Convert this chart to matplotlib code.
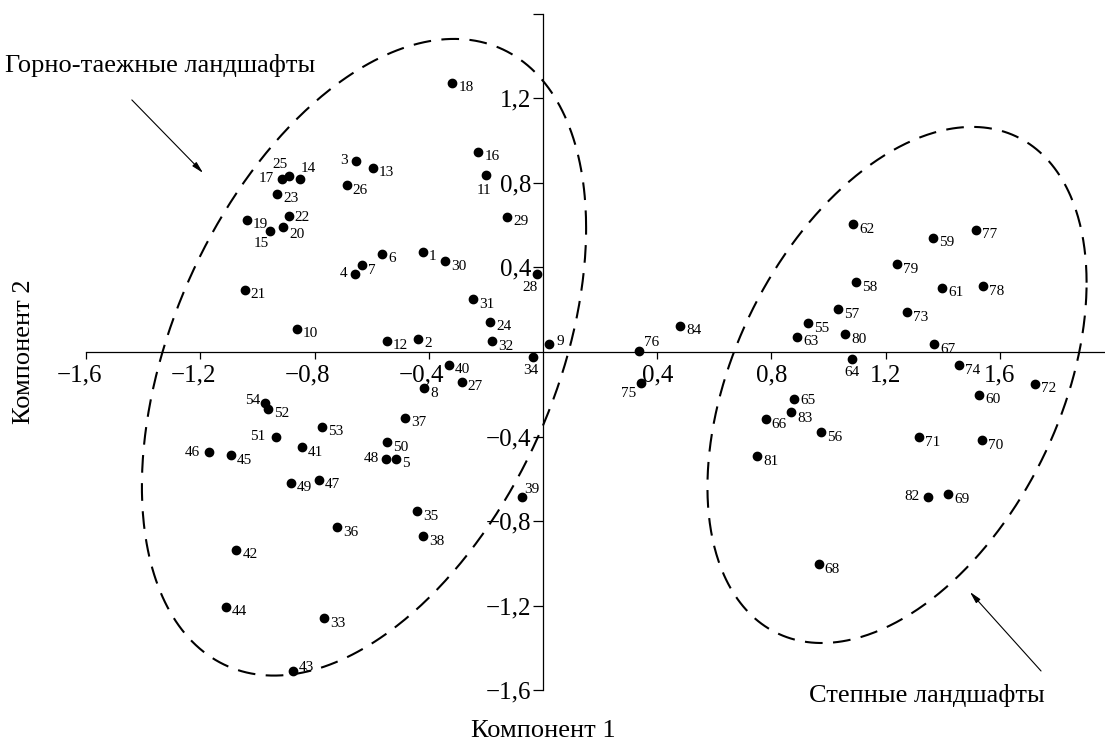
import numpy as np
import matplotlib
matplotlib.use("Agg")
import matplotlib.pyplot as plt
from matplotlib.transforms import ScaledTranslation

plt.rcParams['font.family'] = ['Liberation Serif', 'DejaVu Serif']

# ---- data (component scores) ----
ids = list(range(1, 85))
comp1 = [-0.421, -0.437, -0.654, -0.657, -0.515, -0.563, -0.634, -0.417, 0.022, -0.863,
         -0.201, -0.546, -0.595, -0.851, -0.955, -0.227, -0.913, -0.318, -1.037, -0.910,
         -1.045, -0.891, -0.931, -0.186, -0.889, -0.687, -0.285, -0.020, -0.125, -0.343,
         -0.246, -0.179, -0.768, -0.036, -0.442, -0.722, -0.482, -0.419, -0.075, -0.329,
         -0.845, -1.074, -0.876, -1.111, -1.094, -1.169, -0.786, -0.551, -0.883, -0.545,
         -0.936, -0.962, -0.774, -0.973, 0.929, 0.973, 1.034, 1.096, 1.367, 1.527,
         1.399, 1.086, 0.890, 1.081, 0.879, 0.780, 1.371, 0.966, 1.420, 1.538,
         1.316, 1.724, 1.276, 1.457, 0.342, 0.337, 1.518, 1.540, 1.239, 1.058,
         0.750, 1.350, 0.869, 0.480]
comp2 = [0.474, 0.063, 0.902, 0.369, -0.506, 0.465, 0.411, -0.172, 0.039, 0.109,
         0.837, 0.054, 0.870, 0.818, 0.572, 0.947, 0.818, 1.272, 0.626, 0.591,
         0.293, 0.645, 0.747, 0.142, 0.834, 0.788, -0.140, 0.369, 0.640, 0.429,
         0.249, 0.050, -1.259, -0.025, -0.752, -0.829, -0.312, -0.871, -0.687, -0.061,
         -0.451, -0.935, -1.508, -1.204, -0.489, -0.473, -0.604, -0.506, -0.619, -0.427,
         -0.402, -0.268, -0.353, -0.243, 0.136, -0.380, 0.202, 0.329, 0.541, -0.203,
         0.303, 0.604, 0.071, -0.035, -0.224, -0.317, 0.036, -1.004, -0.673, -0.418,
         -0.403, -0.150, 0.188, -0.063, -0.145, 0.005, 0.577, 0.311, 0.415, 0.084,
         -0.493, -0.684, -0.282, 0.124]

xticks = [-1.6, -1.2, -0.8, -0.4, 0.4, 0.8, 1.2, 1.6]
xticklabels = ["−1,6", "−1,2", "−0,8", "−0,4", "0,4", "0,8", "1,2", "1,6"]
yticks = [-1.6, -1.2, -0.8, -0.4, 0.4, 0.8, 1.2, 1.6]
yticklabels = ["−1,6", "−1,2", "−0,8", "−0,4", "0,4", "0,8", "1,2", ""]

group_names = ["Горно-таежные ландшафты", "Степные ландшафты"]
xlabel = "Компонент 1"
ylabel = "Компонент 2"

# ---- label placement (pixel offsets) ----
default_off = (6, -5, 'left')
special_off = {
    3: (-8, 1, 'right'), 25: (-9, 11, 'center'), 17: (-8, 0, 'right'),
    14: (1, 10, 'left'), 15: (-9, -13, 'center'), 11: (-2, -16, 'center'),
    4: (-8, 0, 'right'), 28: (-7, -14, 'center'), 34: (-2, -13, 'center'),
    46: (-9, 0, 'right'), 48: (-7, 0, 'right'), 51: (-10, 0, 'right'),
    54: (-5, 3, 'right'), 39: (3, 8, 'left'), 76: (5, 8, 'left'),
    75: (-4, -11, 'right'), 64: (0, -13, 'center'), 82: (-9, 0, 'right'),
    9: (7, 2, 'left'), 43: (6, 3, 'left'),
    22: (6, -2, 'left'), 20: (6, -8, 'left'),
    65: (6, -1, 'left'), 83: (6, -7, 'left'),
}

fig = plt.figure(figsize=(11.05, 7.42), dpi=100)
ax = fig.add_axes([0, 0, 1, 1])
ax.set_xlim(-1.902, 1.9685)
ax.set_ylim(-1.844, 1.664)
ax.patch.set_alpha(0)

for s in ['top', 'right']:
    ax.spines[s].set_visible(False)
ax.spines['left'].set_position(('data', 0))
ax.spines['bottom'].set_position(('data', 0))
ax.spines['left'].set_bounds(-1.6, 1.6)
ax.spines['bottom'].set_bounds(-1.6, 1.9685)
for s in ['left', 'bottom']:
    ax.spines[s].set_linewidth(0.9)

ax.set_xticks(xticks)
ax.set_xticklabels([])
ax.tick_params(axis='x', direction='out', length=5, width=0.9, labelbottom=False)
ax.set_yticks(yticks)
ax.set_yticklabels(yticklabels, fontsize=18)
ax.tick_params(axis='y', direction='out', length=7.5, width=0.9, pad=1)

# x tick labels: numeric part centred under tick
for v, lab in zip(xticks, xticklabels):
    dx = -7 if lab.startswith("−") else 0
    tr = ax.transData + ScaledTranslation(dx / 100, -23 / 100, fig.dpi_scale_trans)
    ax.text(v, 0, lab, transform=tr, ha='center', va='center', fontsize=18)

# points
ax.plot(comp1, comp2, 'o', color='black', ms=6, zorder=3, clip_on=False)
for i, x, y in zip(ids, comp1, comp2):
    dx, dy, ha = special_off.get(i, default_off)
    ax.annotate(str(i), (x, y), xytext=(dx, dy), textcoords='offset pixels',
                ha=ha, va='center', fontsize=11)

# ellipses (dashed group outlines)
def ellipse_xy(cx, cy, sx, sy, cxy, n=500):
    t = np.linspace(0, 2 * np.pi, n)
    l21 = cxy / sx
    l22 = np.sqrt(sy ** 2 - l21 ** 2)
    return cx + sx * np.cos(t), cy + l21 * np.cos(t) + l22 * np.sin(t)

dash = (0, (8.5, 5))
ex, ey = ellipse_xy(-0.627, -0.025, 0.778, 1.505, 0.475)
ax.plot(ex, ey, color='black', lw=1.5, linestyle=dash, clip_on=False)
ex, ey = ellipse_xy(1.240, -0.156, 0.664, 1.220, 0.321)
ax.plot(ex, ey, color='black', lw=1.5, linestyle=dash, clip_on=False)

# group annotations
arrow = dict(arrowstyle='-|>,head_length=0.7,head_width=0.17', color='black', lw=0.8)
ax.annotate("", xy=(-1.184, 0.837), xytext=(-1.447, 1.201), arrowprops=arrow)
ax.text(-1.884, 1.352, group_names[0], ha='left', va='center', fontsize=19)
ax.annotate("", xy=(1.489, -1.125), xytext=(1.751, -1.518), arrowprops=arrow)
ax.text(1.343, -1.626, group_names[1], ha='center', va='center', fontsize=19)

fig.text(543 / 1105, 1 - 731 / 742, xlabel, ha='center', va='center', fontsize=19)
fig.text(24 / 1105, 1 - 352 / 742, ylabel, ha='center', va='center', fontsize=19,
         rotation=90)

fig.savefig("out.png", dpi=100)
